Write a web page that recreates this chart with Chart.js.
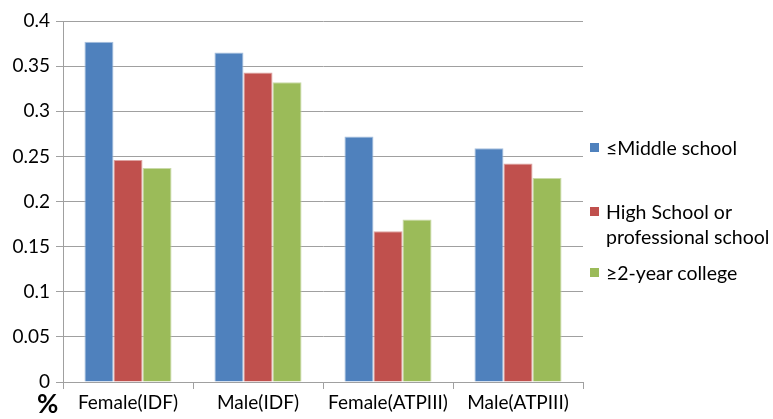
<!DOCTYPE html>
<html>
<head>
<meta charset="utf-8">
<script src="https://cdn.jsdelivr.net/npm/chart.js@4/dist/chart.umd.min.js"></script>
<style>
  html, body { margin: 0; padding: 0; background: #fff; }
  #wrap { position: relative; width: 773px; height: 419px; font-family: Lato, "Open Sans", sans-serif; }
  #unit { position: absolute; left: 37px; top: 390px; font-size: 26px; font-weight: bold; color: #000; line-height: 26px; }
  #legend { position: absolute; left: 590px; top: 135px; width: 183px; color: #000; font-size: 19.5px; line-height: 25px; white-space: nowrap; }
  .item { display: flex; align-items: flex-start; }
  .swatch { width: 9px; height: 9px; margin: 8px 7px 0 0; flex: none; }
</style>
</head>
<body>
<div id="wrap">
  <canvas id="c" width="773" height="419"></canvas>
  <div id="unit">%</div>
  <div id="legend"></div>
</div>
<script>
// Metabolic syndrome prevalence by education level
const categories = ['Female(IDF)', 'Male(IDF)', 'Female(ATPIII)', 'Male(ATPIII)'];
const seriesNames = ['≤Middle school', ['High School or', 'professional school'], '≥2-year college'];
const middleSchool = [0.377, 0.365, 0.272, 0.259];
const highSchool = [0.246, 0.343, 0.167, 0.242];
const college = [0.237, 0.332, 0.180, 0.226];
const yTicks = [0, 0.05, 0.1, 0.15, 0.2, 0.25, 0.3, 0.35, 0.4];

const fills = ['#4F81BD', '#C0504D', '#9BBB59'];
const edges = ['#A7C0DE', '#DDA3A1', '#C9DAA8'];
const values = [middleSchool, highSchool, college];

const datasets = seriesNames.map((name, i) => ({
  label: [].concat(name).join(' '),
  data: values[i],
  backgroundColor: fills[i],
  borderColor: edges[i],
  borderWidth: 1,
  categoryPercentage: 0.67,
  barPercentage: 1.0
}));

const gridColor = '#A0A0A0';
const family = 'Lato, "Open Sans", sans-serif';

new Chart(document.getElementById('c'), {
  type: 'bar',
  data: { labels: categories, datasets },
  options: {
    responsive: false,
    animation: false,
    layout: { padding: { top: 21, right: 190, left: 0, bottom: 0 } },
    plugins: { legend: { display: false }, tooltip: { enabled: false } },
    scales: {
      x: {
        grid: { display: true, drawOnChartArea: false, drawTicks: true, tickLength: 7, color: gridColor, offset: true },
        border: { display: true, color: gridColor, width: 1 },
        ticks: { color: '#000', font: { family, size: 19 }, padding: 2, maxRotation: 0 },
        afterFit: s => { s.height = 37; }
      },
      y: {
        min: 0,
        max: 0.4,
        afterBuildTicks: s => { s.ticks = yTicks.map(v => ({ value: v })); },
        grid: { color: gridColor, lineWidth: 1, drawTicks: true, tickLength: 7 },
        border: { display: true, color: gridColor, width: 1 },
        ticks: { color: '#000', font: { family, size: 19 }, padding: 6, callback: v => String(+v.toFixed(2)) },
        afterFit: s => { s.width = 63; }
      }
    }
  }
});

// Legend entries beside the plot
const legend = document.getElementById('legend');
const gaps = [0, 39, 11];
seriesNames.forEach((name, i) => {
  const item = document.createElement('div');
  item.className = 'item';
  item.style.marginTop = gaps[i] + 'px';
  const sw = document.createElement('span');
  sw.className = 'swatch';
  sw.style.background = fills[i];
  const tx = document.createElement('span');
  [].concat(name).forEach((line, j) => {
    if (j) tx.appendChild(document.createElement('br'));
    tx.appendChild(document.createTextNode(line));
  });
  item.appendChild(sw);
  item.appendChild(tx);
  legend.appendChild(item);
});
</script>
</body>
</html>
